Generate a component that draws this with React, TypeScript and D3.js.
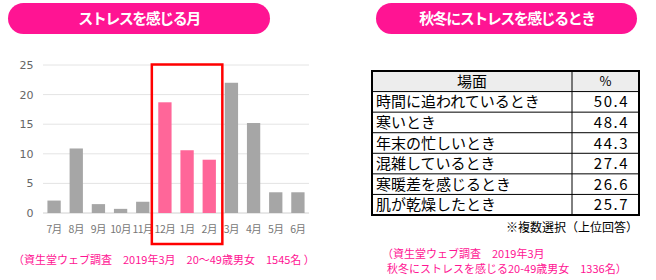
import React from "react";
import * as d3 from "d3";

const months = ["7月", "8月", "9月", "10月", "11月", "12月", "1月", "2月", "3月", "4月", "5月", "6月"];
const stressValues = [2.1, 10.9, 1.5, 0.7, 1.9, 18.7, 10.6, 9.0, 22.0, 15.2, 3.5, 3.5];
const highlightMonths = ["12月", "1月", "2月"];
const yTicks = [0, 5, 10, 15, 20, 25];

const scenes = ["時間に追われているとき", "寒いとき", "年末の忙しいとき", "混雑しているとき", "寒暖差を感じるとき", "肌が乾燥したとき"];
const percents = ["50.4", "48.4", "44.3", "27.4", "26.6", "25.7"];
const tableHeaders = ["場面", "%"];

const leftTitle = "ストレスを感じる月";
const rightTitle = "秋冬にストレスを感じるとき";
const leftNote = "（資生堂ウェブ調査　2019年3月　20～49歳男女　1545名 ）";
const rightNote1 = "（資生堂ウェブ調査　2019年3月";
const rightNote2 = "秋冬にストレスを感じる20-49歳男女　1336名）";
const tableNote = "※複数選択（上位回答）";

const FONT = "'Noto Sans CJK JP', 'Noto Sans', sans-serif";
const PINK = "#FF1493";

export default function App() {
  const x = d3.scaleBand<string>().domain(months).range([43, 309]).paddingInner(0.4).paddingOuter(0.2);
  const y = d3.scaleLinear().domain([0, 25]).range([213, 65]);

  const hl = highlightMonths.map((m) => x(m)!);
  const boxLeft = Math.min(...hl) - (x.step() * x.paddingInner()) / 2 - 2;
  const boxRight = Math.max(...hl) + x.bandwidth() + (x.step() * x.paddingInner()) / 2 + 2;

  const tLeft = 372, tRight = 639, tDiv = 572;
  const rowsY = d3.scaleBand<string>().domain(["__h", ...scenes]).range([71, 215]);

  return (
    <svg width={656} height={280} style={{ position: "absolute", left: 0, top: 0, fontFamily: FONT }}>
      <rect width={656} height={280} fill="#fff" />
      {/* titles */}
      <rect x={8} y={3} width={262} height={31} rx={15.5} fill={PINK} />
      <text x={139} y={24} textAnchor="middle" fill="#fff" fontSize={15} fontWeight="bold" letterSpacing={-1.5}>{leftTitle}</text>
      <rect x={376} y={3} width={261} height={31} rx={15.5} fill={PINK} />
      <text x={507} y={24} textAnchor="middle" fill="#fff" fontSize={15} fontWeight="bold" letterSpacing={-1.5}>{rightTitle}</text>

      {/* grid */}
      {yTicks.map((t) => (
        <g key={t}>
          <line x1={43} x2={309} y1={y(t)} y2={y(t)} stroke={t === 0 ? "#D0D0D0" : "#E4E4E4"} strokeWidth={1} />
          <text x={33.5} y={y(t) + 4} textAnchor="end" fontSize={11} fill="#666" fontFamily="'DejaVu Sans', sans-serif">{t}</text>
        </g>
      ))}
      {/* bars */}
      {months.map((m, i) => (
        <g key={m}>
          <rect x={x(m)} y={y(stressValues[i])} width={x.bandwidth()} height={y(0) - y(stressValues[i])}
            fill={highlightMonths.includes(m) ? "#FF6699" : "#A6A6A6"} />
          <text x={x(m)! + x.bandwidth() / 2} y={233} textAnchor="middle" fontSize={10.5} fill="#777" letterSpacing={-0.5}>{m}</text>
        </g>
      ))}
      <rect x={boxLeft} y={64.5} width={boxRight - boxLeft} height={179.5} fill="none" stroke="#FF0000" strokeWidth={2.5} />

      <text x={13} y={264} fontSize={11} fill={PINK}>{leftNote}</text>

      {/* table */}
      <rect x={tLeft} y={rowsY("__h")} width={tRight - tLeft} height={rowsY.bandwidth()} fill="#EDEDED" />
      {rowsY.domain().slice(1).map((s) => (
        <line key={s} x1={tLeft} x2={tRight} y1={rowsY(s)} y2={rowsY(s)} stroke="#000" strokeWidth={1} />
      ))}
      <line x1={tDiv} x2={tDiv} y1={71} y2={215} stroke="#000" strokeWidth={1} />
      <rect x={tLeft} y={71} width={tRight - tLeft} height={144} fill="none" stroke="#000" strokeWidth={2} />
      <text x={(tLeft + tDiv) / 2} y={rowsY("__h")! + rowsY.bandwidth() / 2 + 5.5} textAnchor="middle" fontSize={15} fill="#000">{tableHeaders[0]}</text>
      <text x={(tDiv + tRight) / 2} y={rowsY("__h")! + rowsY.bandwidth() / 2 + 5} textAnchor="middle" fontSize={13} fill="#000">{tableHeaders[1]}</text>
      {scenes.map((s, i) => (
        <g key={s}>
          <text x={376} y={rowsY(s)! + rowsY.bandwidth() / 2 + 5.5} fontSize={15} fill="#000">{s}</text>
          <text x={629} y={rowsY(s)! + rowsY.bandwidth() / 2 + 5.5} textAnchor="end" fontSize={15} fill="#000" letterSpacing={1.5}>{percents[i]}</text>
        </g>
      ))}
      <text x={638} y={232} textAnchor="end" fontSize={12} fill="#000">{tableNote}</text>

      <text x={382} y={258} fontSize={11} fill={PINK}>{rightNote1}</text>
      <text x={387} y={273} fontSize={11} fill={PINK}>{rightNote2}</text>
    </svg>
  );
}
